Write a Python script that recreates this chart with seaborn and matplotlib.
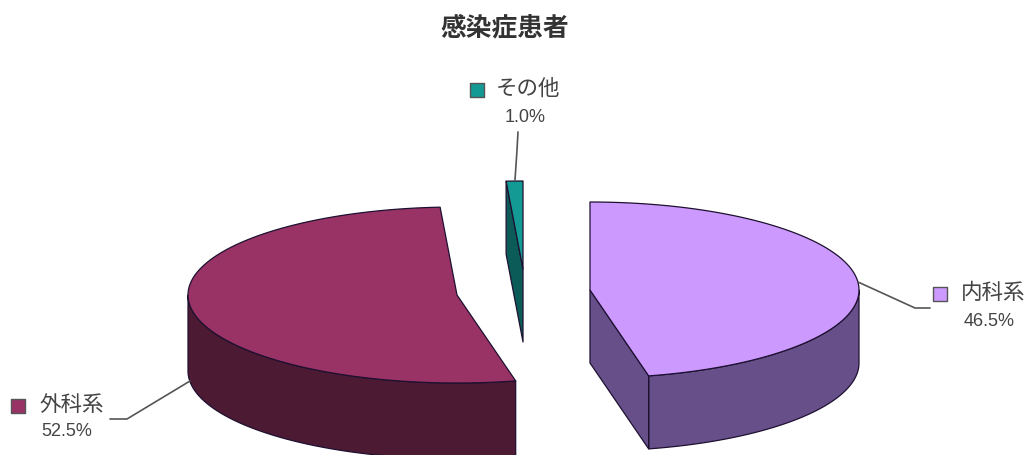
import numpy as np
import pandas as pd
import matplotlib
matplotlib.use('Agg')
import matplotlib.pyplot as plt
import seaborn as sns

# data
categorias = ['内科系', '外科系', 'その他']
valores = [46.5, 52.5, 1.0]
titulo = '感染症患者'

# colours: top face, side wall
color_top = ['#CC99FF', '#993366', '#149A94']
color_side = ['#67508A', '#4C1A33', '#0B5C58']
BORDE = '#1E1030'

# layout in pixels of the output image
centros = [(590, 290), (457, 295), (523, 269)]
profundidad = [73, 76, 73]
RX, RY = 269, 88
pos_marca = [(940, 294), (18, 406), (477, 90)]
pos_nombre = [(993, 293), (72, 405), (528, 89)]
pos_pct = [(989, 321), (67, 432), (525, 117)]
lineas = [
    [(858, 282), (915, 308), (930, 308)],
    [(190, 381), (127, 419), (110, 419)],
    [(515, 180), (517, 150), (518, 132)],
]

sns.set_theme(style='white')
plt.rcParams['font.family'] = ['Noto Sans CJK JP', 'DejaVu Sans']

fig = plt.figure(figsize=(10.28, 4.55), dpi=100)
ax = fig.add_axes([0, 0, 1, 1])

EDGE = dict(linewidth=0.9, joinstyle='round')


def punto(c, a):
    return c[0] + RX * np.cos(a), c[1] - RY * np.sin(a)


# slices go clockwise from the top, drawn back to front
fracciones = np.array(valores) / sum(valores) * 2 * np.pi
inicio = np.pi / 2
angulos = []
for f in fracciones:
    angulos.append((inicio, inicio - f))
    inicio -= f

for i in [2, 1, 0]:
    a0, a1 = angulos[i]
    c = centros[i]
    depth = profundidad[i]
    t = np.linspace(a0, a1, 200)

    # visible part of the rim
    t_low = t[np.sin(t) < 0]
    if len(t_low) > 1:
        xs, ys = punto(c, t_low)
        ax.fill(np.r_[xs, xs[::-1]], np.r_[ys, ys[::-1] + depth], fc=color_side[i], ec=BORDE, **EDGE)

    # cut faces that look towards the viewer
    for a, normal in [(a0, a0 + np.pi / 2), (a1, a1 - np.pi / 2)]:
        if np.sin(normal) < -1e-6:
            x, y = punto(c, a)
            ax.fill([c[0], x, x, c[0]], [c[1], y, y + depth, c[1] + depth], fc=color_side[i], ec=BORDE, **EDGE)

    # top face
    xs, ys = punto(c, t)
    ax.fill(np.r_[c[0], xs], np.r_[c[1], ys], fc=color_top[i], ec=BORDE, **EDGE)

# leader lines
for linea in lineas:
    xs, ys = zip(*linea)
    ax.plot(xs, ys, color='#555555', lw=1.2, solid_joinstyle='round')

# legend squares
marcas = pd.DataFrame({
    'x': [p[0] for p in pos_marca],
    'y': [p[1] for p in pos_marca],
    'categoria': categorias,
})
sns.scatterplot(data=marcas, x='x', y='y', hue='categoria', palette=color_top, marker='s',
                s=90, edgecolor='#555555', linewidth=1.0, legend=False, ax=ax)
ax.set_xlim(0, 1028)
ax.set_ylim(455, 0)
ax.axis('off')

for cat, v, pn, pp in zip(categorias, valores, pos_nombre, pos_pct):
    ax.text(pn[0], pn[1], cat, ha='center', va='center', fontsize=15.5, color='#444444')
    ax.text(pp[0], pp[1], f'{v:.1f}%', ha='center', va='center', fontsize=13,
            family=['Liberation Sans', 'DejaVu Sans'], color='#444444')

ax.text(505, 28, titulo, ha='center', va='center', fontsize=18.5, fontweight='bold', color='#333333')

fig.savefig('out.png', dpi=100)
